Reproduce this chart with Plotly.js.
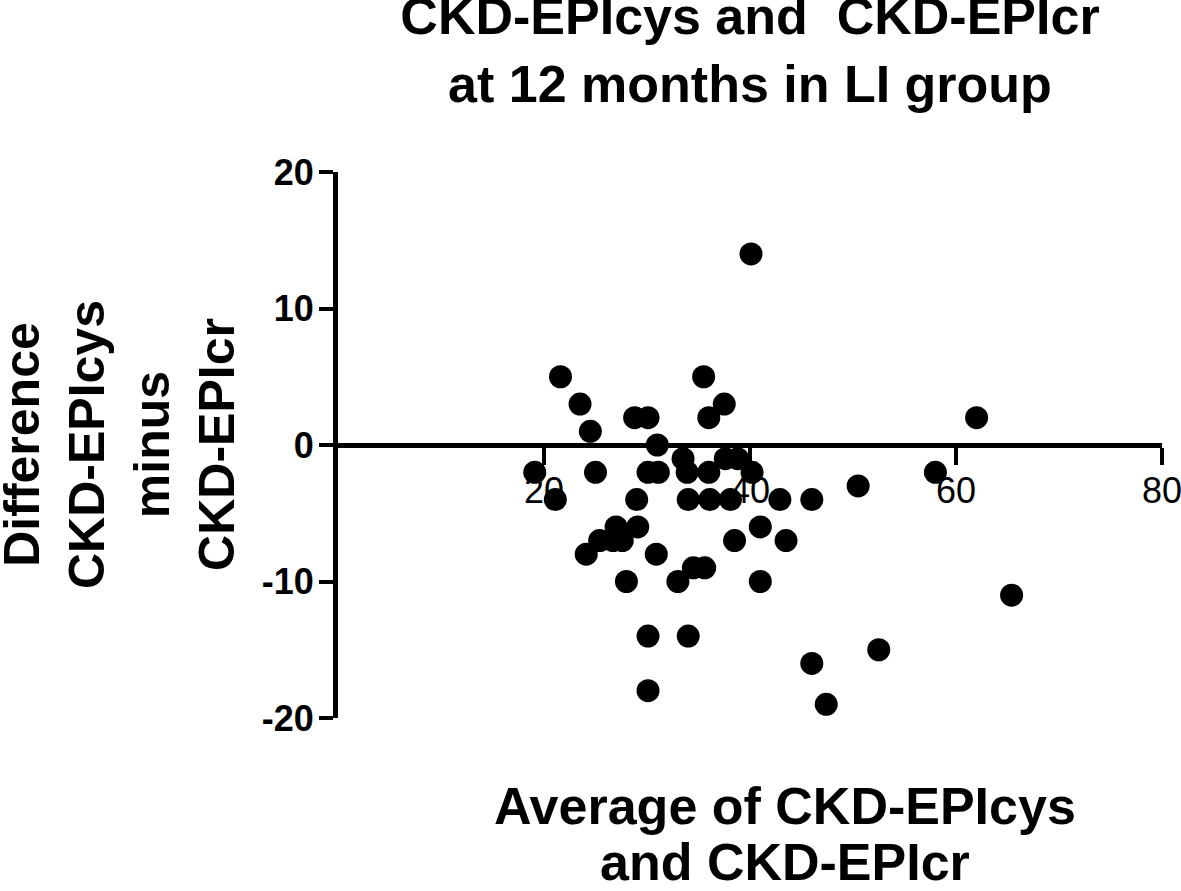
<!DOCTYPE html>
<html>
<head>
<meta charset="utf-8">
<script src="https://cdn.plot.ly/plotly-3.0.1.min.js"></script>
<style>
  html, body { margin: 0; padding: 0; background: #ffffff; }
  #chart { width: 1181px; height: 891px; }
</style>
</head>
<body>
<div id="chart"></div>
<script>
// Average of CKD-EPIcys and CKD-EPIcr (x)
const averageVals = [
  40.1, 21.6, 23.5, 24.5, 28.8, 30.1, 31.0, 35.5, 36.0, 37.5, 62.0,
  19.1, 25.0, 30.1, 31.1, 33.5, 33.9, 36.0, 37.6, 38.8, 40.2, 58.0,
  50.5,
  21.1, 29.0, 34.0, 36.1, 38.1, 42.9, 46.0,
  27.0, 29.1, 41.0,
  25.4, 26.7, 27.6, 38.5, 43.5,
  24.1, 30.9,
  34.5, 35.6,
  28.0, 33.0, 41.0,
  65.4,
  30.1, 34.0,
  52.5,
  46.0,
  30.1,
  47.4
];
// Difference CKD-EPIcys minus CKD-EPIcr (y)
const differenceVals = [
  14, 5, 3, 1, 2, 2, 0, 5, 2, 3, 2,
  -2, -2, -2, -2, -1, -2, -2, -1, -1, -2, -2,
  -3,
  -4, -4, -4, -4, -4, -4, -4,
  -6, -6, -6,
  -7, -7, -7, -7, -7,
  -8, -8,
  -9, -9,
  -10, -10, -10,
  -11,
  -14, -14,
  -15,
  -16,
  -18,
  -19
];
const xTickVals = [20, 40, 60, 80];
const yTickVals = [-20, -10, 0, 10, 20];

const chartTitle = 'CKD-EPIcys and  CKD-EPIcr<br>at 12 months in LI group';
const xTitleLines = ['Average of CKD-EPIcys', 'and CKD-EPIcr'];
const yTitle = 'Difference<br>CKD-EPIcys<br>minus<br>CKD-EPIcr';

const FONT = '"Liberation Sans", Arial, sans-serif';

// pixel helpers for the plot frame (margins below)
const PLOT_L = 338, PLOT_W = 824, PLOT_T = 172, PLOT_H = 546;
const px2paperX = p => (p - PLOT_L) / PLOT_W;
const px2paperY = p => (PLOT_T + PLOT_H - p) / PLOT_H;

const trace = {
  type: 'scatter',
  mode: 'markers',
  x: averageVals,
  y: differenceVals,
  marker: { color: '#000000', size: 23, line: { width: 0 } },
  hoverinfo: 'x+y',
  showlegend: false
};

const layout = {
  width: 1181,
  height: 891,
  paper_bgcolor: '#ffffff',
  plot_bgcolor: '#ffffff',
  margin: { l: PLOT_L, r: 1181 - PLOT_L - PLOT_W, t: PLOT_T, b: 891 - PLOT_T - PLOT_H, pad: 0 },
  font: { family: FONT, color: '#000000' },
  title: {
    text: chartTitle,
    font: { family: FONT, size: 52, weight: 'bold', color: '#000000' },
    x: 0.5, xref: 'paper', xanchor: 'center',
    y: 1 - 34 / 891, yref: 'container', yanchor: 'top',
    pad: { t: 0, b: 0 }
  },
  xaxis: {
    range: [0, 80],
    anchor: 'free',
    position: 0.5,
    showgrid: false,
    zeroline: false,
    showline: true,
    linecolor: '#000000',
    linewidth: 5,
    ticks: 'outside',
    ticklen: 17,
    tickwidth: 4,
    tickcolor: '#000000',
    tickmode: 'array',
    tickvals: xTickVals,
    ticktext: xTickVals.map(String),
    ticklabelstandoff: -5,
    ticklabeloverflow: 'allow',
    tickfont: { family: FONT, size: 36, color: '#000000' },
    layer: 'above traces',
    fixedrange: true
  },
  yaxis: {
    range: [-20, 20],
    showgrid: false,
    zeroline: false,
    showline: true,
    linecolor: '#000000',
    linewidth: 5,
    ticks: 'outside',
    ticklen: 14,
    tickwidth: 4,
    tickcolor: '#000000',
    tickmode: 'array',
    tickvals: yTickVals,
    ticktext: yTickVals.map(String),
    ticklabelstandoff: -2,
    ticklabeloverflow: 'allow',
    tickfont: { family: FONT, size: 36, weight: 'bold', color: '#000000' },
    layer: 'above traces',
    fixedrange: true
  },
  annotations: [
    {
      text: xTitleLines[0],
      xref: 'paper', yref: 'paper',
      x: px2paperX(785), y: px2paperY(806),
      xanchor: 'center', yanchor: 'middle',
      showarrow: false,
      font: { family: FONT, size: 52, weight: 'bold', color: '#000000' }
    },
    {
      text: xTitleLines[1],
      xref: 'paper', yref: 'paper',
      x: px2paperX(785), y: px2paperY(862),
      xanchor: 'center', yanchor: 'middle',
      showarrow: false,
      font: { family: FONT, size: 52, weight: 'bold', color: '#000000' }
    },
    {
      text: yTitle,
      xref: 'paper', yref: 'paper',
      x: px2paperX(119), y: 0.5,
      xanchor: 'center', yanchor: 'middle',
      textangle: -90,
      showarrow: false,
      align: 'center',
      font: { family: FONT, size: 50, weight: 'bold', color: '#000000' }
    }
  ],
  showlegend: false
};

Plotly.newPlot('chart', [trace], layout, { displayModeBar: false, staticPlot: true });
</script>
</body>
</html>
